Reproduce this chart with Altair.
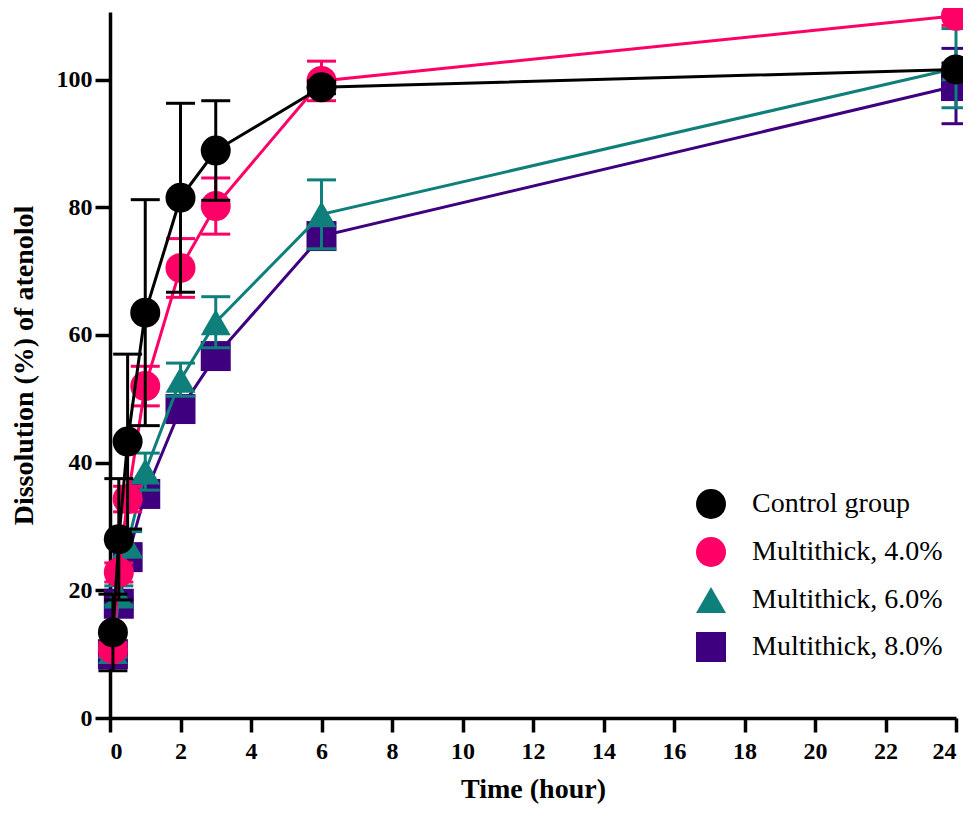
import altair as alt
import pandas as pd

times = [0.083, 0.25, 0.5, 1, 2, 3, 6, 24]

series_names = ["Control group", "Multithick, 4.0%", "Multithick, 6.0%", "Multithick, 8.0%"]
series_colors = ["#000000", "#FF0066", "#0F7F7B", "#3F007F"]
series_shapes = ["circle", "circle", "triangle-up", "square"]

control = [13.4, 28.0, 43.3, 63.5, 81.5, 88.9, 98.8, 101.6]
control_sd = [6.0, 9.5, 13.7, 17.7, 14.8, 7.8, 1.0, 1.0]

m4 = [10.8, 22.8, 34.3, 52.0, 70.5, 80.2, 99.8, 110.0]
m4_sd = [1.0, 1.5, 2.0, 3.1, 4.6, 4.4, 3.1, 1.5]

m6 = [10.5, 19.2, 27.2, 38.6, 53.0, 62.0, 78.9, 101.8]
m6_sd = [1.0, 1.5, 2.0, 2.9, 2.6, 4.0, 5.4, 6.2]

m8 = [10.0, 17.9, 25.2, 35.1, 48.4, 56.7, 75.5, 99.0]
m8_sd = [1.0, 1.0, 1.2, 1.5, 1.5, 1.5, 2.0, 5.9]

x_ticks = list(range(0, 25, 2))
y_ticks = [0, 20, 40, 60, 80, 100]

means = [control, m4, m6, m8]
sds = [control_sd, m4_sd, m6_sd, m8_sd]

rows = []
for name, mv, sv in zip(series_names, means, sds):
    for t, m, s in zip(times, mv, sv):
        rows.append({"series": name, "time": t, "mean": m, "lo": m - s, "hi": m + s})
df = pd.DataFrame(rows)

FONT = "Liberation Serif"

x_enc = alt.X("time:Q", scale=alt.Scale(domain=[0, 24], nice=False),
              axis=alt.Axis(values=x_ticks, title="Time (hour)", format="d"))
y_scale = alt.Scale(domain=[0, 110.6], nice=False)
y_axis = alt.Axis(values=y_ticks, title="Dissolution (%) of atenolol")

color_scale = alt.Scale(domain=series_names, range=series_colors)
shape_scale = alt.Scale(domain=series_names, range=series_shapes)

legend_cfg = dict(title=None, orient="none", legendX=586, legendY=477,
                  symbolSize=900, labelFont=FONT, labelFontSize=28,
                  labelColor="#000000", labelOffset=26, rowPadding=18,
                  padding=0, symbolOpacity=1, labelLimit=400, symbolStrokeWidth=0)

base = alt.Chart(df)

layers = []
# draw order bottom -> top: 8%, 6%, 4%, control
for name, col in reversed(list(zip(series_names, series_colors))):
    b = base.transform_filter(alt.datum.series == name)
    line = b.mark_line(strokeWidth=3, color=col).encode(
        x=x_enc,
        y=alt.Y("mean:Q", scale=y_scale, axis=y_axis),
    )
    rule = b.mark_rule(strokeWidth=3, color=col).encode(
        x="time:Q", y="lo:Q", y2="hi:Q",
    )
    cap_hi = b.mark_tick(orient="horizontal", size=29, thickness=3, color=col, opacity=1).encode(
        x="time:Q", y="hi:Q",
    )
    cap_lo = b.mark_tick(orient="horizontal", size=29, thickness=3, color=col, opacity=1).encode(
        x="time:Q", y="lo:Q",
    )
    pts = b.mark_point(filled=True, size=900, opacity=1).encode(
        x="time:Q",
        y="mean:Q",
        color=alt.Color("series:N", scale=color_scale, legend=alt.Legend(**legend_cfg)),
        shape=alt.Shape("series:N", scale=shape_scale, legend=alt.Legend(**legend_cfg)),
    )
    layers += [line, rule, cap_hi, cap_lo, pts]

chart = alt.layer(*layers).properties(
    width=846, height=706,
    autosize="none",
    padding={"left": 102, "top": 4, "right": 7, "bottom": 88},
).configure_view(stroke=None).configure_axis(
    grid=False,
    domainColor="#000000", domainWidth=3.5,
    tickColor="#000000", tickWidth=3.5, tickSize=14,
    labelFont=FONT, labelFontWeight="bold", labelFontSize=24, labelColor="#000000",
    titleFont=FONT, titleFontWeight="bold", titleFontSize=28, titleColor="#000000",
).configure_axisX(titlePadding=12, labelPadding=7).configure_axisY(titlePadding=18, labelPadding=3, tickSize=15)

chart.save("out.html", embed_options={"renderer": "svg", "actions": False})
